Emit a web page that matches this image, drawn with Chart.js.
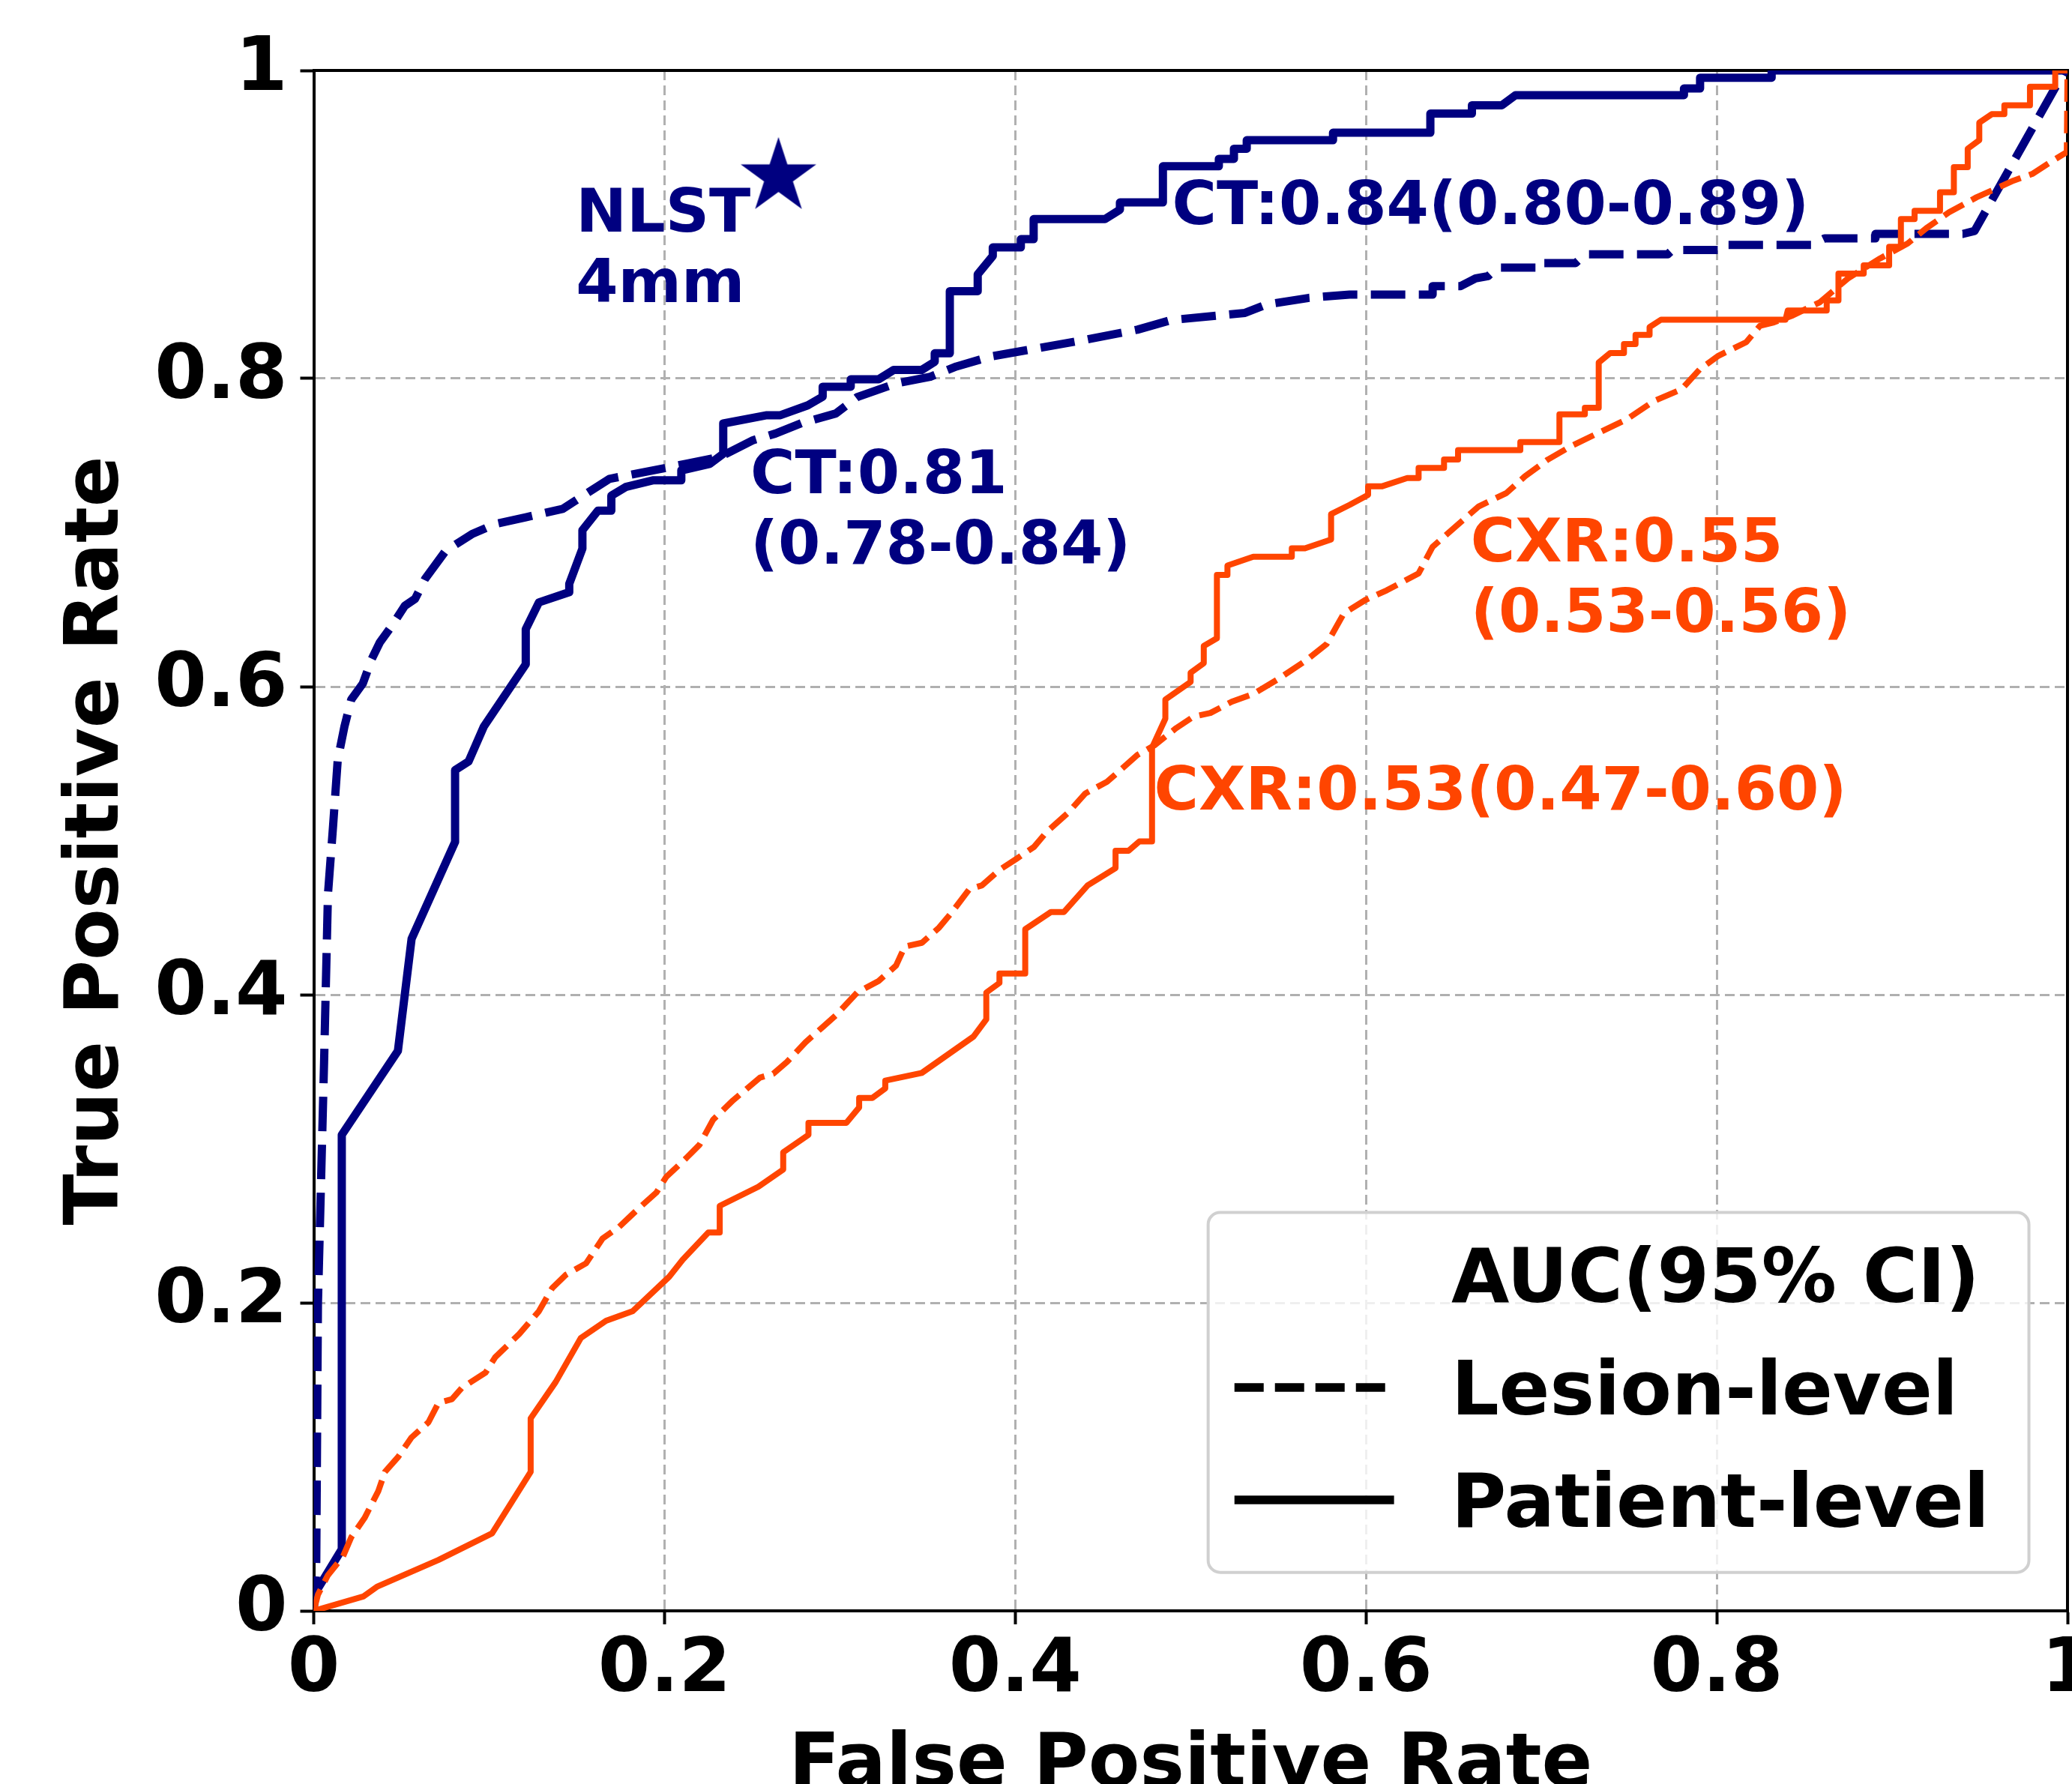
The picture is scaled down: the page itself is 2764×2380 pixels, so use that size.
<!DOCTYPE html>
<html>
<head>
<meta charset="utf-8">
<script src="https://cdn.jsdelivr.net/npm/chart.js@4.4.1/dist/chart.umd.min.js"></script>
<style>
  html, body { margin: 0; padding: 0; background: #fff; overflow: hidden; }
  #wrap { width: 2764px; height: 2380px; overflow: hidden; }
  canvas { display: block; }
</style>
</head>
<body>
<div id="wrap"><canvas id="rocChart" width="2764" height="2440" style="width:2764px;height:2440px"></canvas></div>
<script>
// ROC curves
const ctPatientFpr = [0, 0, 0.016, 0.016, 0.048, 0.0558, 0.0806, 0.0806, 0.0883, 0.097, 0.1209, 0.1209, 0.1284, 0.1457, 0.1457, 0.1532, 0.1532, 0.162, 0.1697, 0.1697, 0.1779, 0.1933, 0.2096, 0.2096, 0.2258, 0.2335, 0.2335, 0.2584, 0.2661, 0.2817, 0.2902, 0.2902, 0.3062, 0.3062, 0.3221, 0.3307, 0.3467, 0.3541, 0.3541, 0.3627, 0.3627, 0.3786, 0.3786, 0.3872, 0.3872, 0.4032, 0.4032, 0.4105, 0.4105, 0.4511, 0.4597, 0.4597, 0.4842, 0.4842, 0.5161, 0.5161, 0.5247, 0.5247, 0.532, 0.532, 0.5812, 0.5812, 0.6367, 0.6367, 0.6604, 0.6604, 0.6775, 0.6853, 0.7813, 0.7813, 0.7905, 0.7905, 0.8313, 0.8313, 1];
const ctPatientTpr = [0, 0.01, 0.04, 0.309, 0.3635, 0.4362, 0.4991, 0.5458, 0.5514, 0.5741, 0.6145, 0.6373, 0.6547, 0.6613, 0.6667, 0.6896, 0.7015, 0.7142, 0.7142, 0.724, 0.7296, 0.7339, 0.7339, 0.7403, 0.7446, 0.7512, 0.7708, 0.7762, 0.7762, 0.7826, 0.7882, 0.7947, 0.7947, 0.7995, 0.7995, 0.8056, 0.8056, 0.8109, 0.8164, 0.8164, 0.8567, 0.8567, 0.8676, 0.8796, 0.8851, 0.8851, 0.8905, 0.8905, 0.9035, 0.9035, 0.9096, 0.9143, 0.9143, 0.9378, 0.9378, 0.9426, 0.9426, 0.9492, 0.9492, 0.9547, 0.9547, 0.9596, 0.9596, 0.972, 0.972, 0.9774, 0.9774, 0.984, 0.984, 0.9883, 0.9883, 0.9953, 0.9953, 1, 1];

const ctLesionFpr = [0, 0.0014, 0.0024, 0.0059, 0.0081, 0.011, 0.0137, 0.0175, 0.0214, 0.028, 0.033, 0.0377, 0.0445, 0.052, 0.0578, 0.0635, 0.0752, 0.0902, 0.1035, 0.1209, 0.142, 0.1553, 0.1686, 0.1933, 0.2125, 0.2315, 0.2506, 0.2633, 0.278, 0.2977, 0.31, 0.332, 0.3516, 0.3664, 0.386, 0.408, 0.44, 0.4696, 0.489, 0.531, 0.543, 0.5676, 0.5907, 0.638, 0.638, 0.654, 0.6625, 0.6696, 0.675, 0.6985, 0.6985, 0.7195, 0.725, 0.772, 0.7748, 0.801, 0.803, 0.854, 0.8615, 0.8905, 0.8905, 0.9404, 0.947, 0.998, 1];
const ctLesionTpr = [0, 0.025, 0.1995, 0.356, 0.465, 0.509, 0.5526, 0.574, 0.5916, 0.602, 0.6177, 0.6287, 0.6394, 0.6525, 0.657, 0.67, 0.6881, 0.699, 0.7056, 0.7099, 0.7154, 0.7252, 0.7349, 0.7403, 0.7447, 0.749, 0.76, 0.7643, 0.771, 0.7773, 0.788, 0.7968, 0.8012, 0.8078, 0.8143, 0.8187, 0.8252, 0.8317, 0.838, 0.8426, 0.848, 0.8524, 0.8545, 0.8545, 0.86, 0.86, 0.865, 0.8665, 0.872, 0.872, 0.875, 0.875, 0.8806, 0.8806, 0.8835, 0.8835, 0.8868, 0.8868, 0.891, 0.891, 0.8939, 0.8939, 0.8958, 0.999, 1];

const cxrPatientFpr = [0, 0.0282, 0.036, 0.0711, 0.1017, 0.1237, 0.1237, 0.138, 0.1523, 0.1667, 0.1818, 0.2027, 0.2104, 0.225, 0.2315, 0.2315, 0.2535, 0.2677, 0.2677, 0.2821, 0.2821, 0.3037, 0.311, 0.311, 0.3185, 0.3259, 0.3259, 0.3467, 0.3762, 0.3835, 0.3835, 0.391, 0.391, 0.4057, 0.4057, 0.4204, 0.4278, 0.4413, 0.4572, 0.4572, 0.4646, 0.4708, 0.478, 0.478, 0.4856, 0.4856, 0.5, 0.5, 0.5075, 0.5075, 0.515, 0.515, 0.521, 0.521, 0.5357, 0.5577, 0.5577, 0.5652, 0.5801, 0.5801, 0.5801, 0.5907, 0.6012, 0.6012, 0.609, 0.6235, 0.63, 0.63, 0.6445, 0.6445, 0.6525, 0.6525, 0.688, 0.688, 0.7103, 0.7103, 0.7248, 0.7248, 0.7327, 0.7327, 0.7393, 0.7471, 0.7471, 0.7537, 0.7537, 0.7617, 0.7617, 0.7682, 0.8392, 0.8405, 0.8627, 0.8627, 0.8694, 0.8694, 0.8838, 0.8838, 0.8983, 0.8983, 0.905, 0.905, 0.9128, 0.9128, 0.9273, 0.9273, 0.9352, 0.9352, 0.9431, 0.9431, 0.9497, 0.9497, 0.9568, 0.964, 0.964, 0.9786, 0.9786, 0.993, 0.993, 1];
const cxrPatientTpr = [0, 0.0093, 0.0156, 0.033, 0.0503, 0.0902, 0.1249, 0.1486, 0.1771, 0.1883, 0.1945, 0.2169, 0.228, 0.2456, 0.2456, 0.2629, 0.2753, 0.2865, 0.2977, 0.309, 0.3168, 0.3168, 0.3268, 0.333, 0.333, 0.3392, 0.3442, 0.3492, 0.3728, 0.384, 0.4014, 0.4076, 0.4138, 0.4138, 0.4425, 0.4537, 0.4537, 0.471, 0.4822, 0.4934, 0.4934, 0.4995, 0.4995, 0.5604, 0.5792, 0.5916, 0.603, 0.609, 0.6152, 0.6264, 0.6314, 0.6725, 0.6725, 0.6786, 0.6843, 0.6843, 0.6898, 0.6898, 0.6955, 0.7046, 0.712, 0.718, 0.7245, 0.73, 0.73, 0.7354, 0.7354, 0.742, 0.742, 0.7474, 0.7474, 0.7535, 0.7535, 0.7587, 0.7587, 0.7768, 0.7768, 0.781, 0.781, 0.8104, 0.8166, 0.8166, 0.8224, 0.8224, 0.8283, 0.8283, 0.8334, 0.8382, 0.8382, 0.8442, 0.8442, 0.8507, 0.8507, 0.8681, 0.8681, 0.8735, 0.8735, 0.8855, 0.8855, 0.9035, 0.9035, 0.9089, 0.9089, 0.9209, 0.9209, 0.9372, 0.9372, 0.9492, 0.9547, 0.9661, 0.9716, 0.9716, 0.9774, 0.9774, 0.9894, 0.9894, 1, 1];

const cxrLesionFpr = [0, 0.0024, 0.008, 0.0167, 0.0214, 0.029, 0.0368, 0.0406, 0.0482, 0.0558, 0.0654, 0.0711, 0.0788, 0.0845, 0.098, 0.1035, 0.1171, 0.1284, 0.136, 0.1437, 0.1553, 0.1647, 0.1741, 0.1857, 0.1954, 0.201, 0.2124, 0.22, 0.2277, 0.2391, 0.2467, 0.2545, 0.262, 0.2698, 0.2804, 0.2902, 0.2976, 0.3099, 0.3221, 0.332, 0.337, 0.3468, 0.3566, 0.364, 0.3738, 0.3811, 0.391, 0.4008, 0.4107, 0.418, 0.4302, 0.44, 0.4523, 0.4597, 0.4696, 0.4794, 0.4917, 0.5015, 0.5113, 0.5236, 0.5358, 0.5505, 0.5652, 0.5776, 0.5874, 0.5996, 0.6118, 0.63, 0.638, 0.6511, 0.6643, 0.68, 0.6906, 0.7037, 0.7169, 0.7327, 0.7485, 0.7642, 0.78, 0.7904, 0.801, 0.8168, 0.8247, 0.8326, 0.8432, 0.8589, 0.8747, 0.893, 0.9089, 0.9194, 0.9324, 0.9482, 0.9587, 0.9692, 0.9799, 0.9904, 0.9996, 1];
const cxrLesionTpr = [0, 0.0105, 0.023, 0.0353, 0.0478, 0.0603, 0.0777, 0.0902, 0.1, 0.1126, 0.1224, 0.135, 0.1374, 0.1448, 0.1547, 0.1647, 0.1796, 0.1945, 0.2096, 0.2181, 0.2256, 0.2417, 0.2492, 0.2617, 0.2716, 0.2817, 0.2939, 0.3026, 0.3188, 0.3314, 0.3387, 0.3462, 0.3487, 0.3563, 0.3691, 0.379, 0.3865, 0.4014, 0.4089, 0.4188, 0.4313, 0.4337, 0.4436, 0.4537, 0.4685, 0.471, 0.481, 0.4883, 0.4959, 0.5058, 0.5182, 0.5307, 0.5382, 0.5456, 0.5556, 0.5619, 0.573, 0.5804, 0.5829, 0.5903, 0.5953, 0.6053, 0.6165, 0.6277, 0.6476, 0.6562, 0.6625, 0.6735, 0.6908, 0.7039, 0.717, 0.7256, 0.7365, 0.7474, 0.7561, 0.7648, 0.7734, 0.7854, 0.7931, 0.8061, 0.8148, 0.8236, 0.8343, 0.8365, 0.8409, 0.8496, 0.8649, 0.8779, 0.8877, 0.8975, 0.9079, 0.9177, 0.923, 0.9285, 0.9328, 0.9406, 0.947, 1];

// NLST operating point (star)
const nlstFpr = [0.265];
const nlstTpr = [0.931];

// axis ticks
const tickValues = [0, 0.2, 0.4, 0.6, 0.8, 1];

// text labels
const annotationLines = [['NLST', '4mm'], ['CT:0.84(0.80-0.89)'], ['CT:0.81', '(0.78-0.84)'], ['CXR:0.55', '(0.53-0.56)'], ['CXR:0.53(0.47-0.60)']];
const annotationAnchors = [[0.1495, 0.8956], [0.4894, 0.9002], [0.249, 0.7255], [0.6597, 0.6815], [0.4792, 0.5202]];
const annotationColors = ['#000080', '#000080', '#000080', '#ff4500', '#ff4500'];

const legendTitle = 'AUC(95% CI)';
const legendLabels = ['Lesion-level', 'Patient-level'];

const NAVY = '#000080';
const ORANGE = '#ff4500';
const FONT = '"DejaVu Sans", sans-serif';

function toPoints(xs, ys) {
    return xs.map((x, i) => ({ x: x, y: ys[i] }));
}

// filled 5-point star like matplotlib '*'
function makeStar(r, color) {
    const c = document.createElement('canvas');
    const s = Math.ceil(r * 2 + 4);
    c.width = s; c.height = s;
    const g = c.getContext('2d');
    const inner = r * 0.381966;
    g.translate(s / 2, s / 2);
    g.beginPath();
    for (let i = 0; i < 10; i++) {
        const rad = i % 2 === 0 ? r : inner;
        const a = -Math.PI / 2 + i * Math.PI / 5;
        const px = rad * Math.cos(a), py = rad * Math.sin(a);
        if (i === 0) g.moveTo(px, py); else g.lineTo(px, py);
    }
    g.closePath();
    g.fillStyle = color;
    g.fill();
    return c;
}

const textPlugin = {
    id: 'rocText',
    afterDatasetsDraw(chart) {
        const { ctx, scales: { x, y } } = chart;
        ctx.save();
        ctx.font = 'bold 81px ' + FONT;
        ctx.textAlign = 'left';
        ctx.textBaseline = 'alphabetic';
        annotationLines.forEach((lines, i) => {
            const px = x.getPixelForValue(annotationAnchors[i][0]);
            const py = y.getPixelForValue(annotationAnchors[i][1]);
            ctx.fillStyle = annotationColors[i];
            lines.forEach((t, j) => ctx.fillText(t, px, py + j * 94));
        });
        ctx.restore();
    }
};

// legend drawn inside the axes (positions in axes units)
const legendPlugin = {
    id: 'rocLegend',
    afterDatasetsDraw(chart) {
        const { ctx, scales: { x, y } } = chart;
        const l = x.getPixelForValue(0.510), r = x.getPixelForValue(0.978);
        const t = y.getPixelForValue(0.2586), b = y.getPixelForValue(0.025);
        const rad = 16;
        ctx.save();
        ctx.beginPath();
        ctx.moveTo(l + rad, t);
        ctx.arcTo(r, t, r, b, rad);
        ctx.arcTo(r, b, l, b, rad);
        ctx.arcTo(l, b, l, t, rad);
        ctx.arcTo(l, t, r, t, rad);
        ctx.closePath();
        ctx.fillStyle = 'rgba(255,255,255,0.8)';
        ctx.fill();
        ctx.lineWidth = 4;
        ctx.strokeStyle = '#d0d0d0';
        ctx.stroke();

        const textX = x.getPixelForValue(0.6486);
        ctx.fillStyle = '#000';
        ctx.font = 'bold 100px ' + FONT;
        ctx.textAlign = 'left';
        ctx.textBaseline = 'alphabetic';
        ctx.fillText(legendTitle, textX, y.getPixelForValue(0.2005));
        ctx.fillText(legendLabels[0], textX, y.getPixelForValue(0.1275));
        ctx.fillText(legendLabels[1], textX, y.getPixelForValue(0.0545));

        const h1 = x.getPixelForValue(0.525), h2 = x.getPixelForValue(0.616);
        ctx.strokeStyle = '#000';
        ctx.lineWidth = 11.5;
        ctx.lineCap = 'butt';
        ctx.setLineDash([39, 15]);
        ctx.beginPath();
        ctx.moveTo(h1, y.getPixelForValue(0.145));
        ctx.lineTo(h2, y.getPixelForValue(0.145));
        ctx.stroke();
        ctx.setLineDash([]);
        ctx.beginPath();
        ctx.moveTo(h1, y.getPixelForValue(0.072));
        ctx.lineTo(h2, y.getPixelForValue(0.072));
        ctx.stroke();
        ctx.restore();
    }
};

const lineBase = { pointRadius: 0, tension: 0, fill: false, clip: 0, borderJoinStyle: 'round' };

const data = {
    datasets: [
        { label: 'NLST 4mm', data: toPoints(nlstFpr, nlstTpr), showLine: false, pointStyle: makeStar(53, NAVY), pointRadius: 5, clip: false },
        Object.assign({}, lineBase, { label: 'CXR lesion', data: toPoints(cxrLesionFpr, cxrLesionTpr), borderColor: ORANGE, borderWidth: 8, borderDash: [30, 12] }),
        Object.assign({}, lineBase, { label: 'CXR patient', data: toPoints(cxrPatientFpr, cxrPatientTpr), borderColor: ORANGE, borderWidth: 8 }),
        Object.assign({}, lineBase, { label: 'CT lesion', data: toPoints(ctLesionFpr, ctLesionTpr), borderColor: NAVY, borderWidth: 11, borderDash: [46, 18] }),
        Object.assign({}, lineBase, { label: 'CT patient', data: toPoints(ctPatientFpr, ctPatientTpr), borderColor: NAVY, borderWidth: 11 })
    ]
};

const tickFont = { family: FONT, size: 100, weight: 'bold', lineHeight: 1 };
const titleFont = { family: FONT, size: 100, weight: 'bold', lineHeight: 1 };
const gridOpts = { color: '#b0b0b0', lineWidth: 3, tickColor: '#000', tickWidth: 4, tickLength: 18, tickBorderDash: [] };
const borderOpts = { display: true, color: '#000', width: 4, dash: [13, 7] };
const tickLabel = v => (v === 0 || v === 1) ? String(v) : v.toFixed(1);

const scales = {
    x: {
        type: 'linear', position: 'bottom', min: 0, max: 1,
        afterBuildTicks(s) { s.ticks = tickValues.map(v => ({ value: v })); },
        ticks: { font: tickFont, color: '#000', padding: 13, maxRotation: 0, autoSkip: false, callback: tickLabel },
        grid: gridOpts,
        border: borderOpts,
        title: { display: true, text: 'False Positive Rate', font: titleFont, color: '#000', padding: { top: 0, bottom: 33 } },
        afterFit(s) { s.height = 291; s.paddingLeft = 0; s.paddingRight = 0; }
    },
    y: {
        type: 'linear', position: 'left', min: 0, max: 1,
        afterBuildTicks(s) { s.ticks = tickValues.map(v => ({ value: v })); },
        ticks: { font: tickFont, color: '#000', padding: 17, autoSkip: false, callback: tickLabel },
        grid: gridOpts,
        border: borderOpts,
        title: { display: true, text: 'True Positive Rate', font: titleFont, color: '#000', padding: { top: 81, bottom: 0 } },
        afterFit(s) { s.width = 418.5; s.paddingTop = 0; s.paddingBottom = 0; }
    },
    xTop: {
        type: 'linear', position: 'top', min: 0, max: 1,
        ticks: { display: false }, grid: { display: false, drawTicks: false },
        border: { display: true, color: '#000', width: 4 },
        afterFit(s) { s.height = 0; s.paddingLeft = 0; s.paddingRight = 0; }
    },
    yRight: {
        type: 'linear', position: 'right', min: 0, max: 1,
        ticks: { display: false }, grid: { display: false, drawTicks: false },
        border: { display: true, color: '#000', width: 4 },
        afterFit(s) { s.width = 0; s.paddingTop = 0; s.paddingBottom = 0; }
    }
};

const rocChart = new Chart(document.getElementById('rocChart'), {
    type: 'line',
    data,
    options: {
        responsive: false,
        devicePixelRatio: 1,
        animation: false,
        events: [],
        layout: { autoPadding: false, padding: { left: 0, right: 6, top: 94, bottom: 0 } },
        scales: scales,
        plugins: {
            legend: { display: false },
            tooltip: { enabled: false }
        }
    },
    plugins: [textPlugin, legendPlugin]
});
</script>
</body>
</html>
